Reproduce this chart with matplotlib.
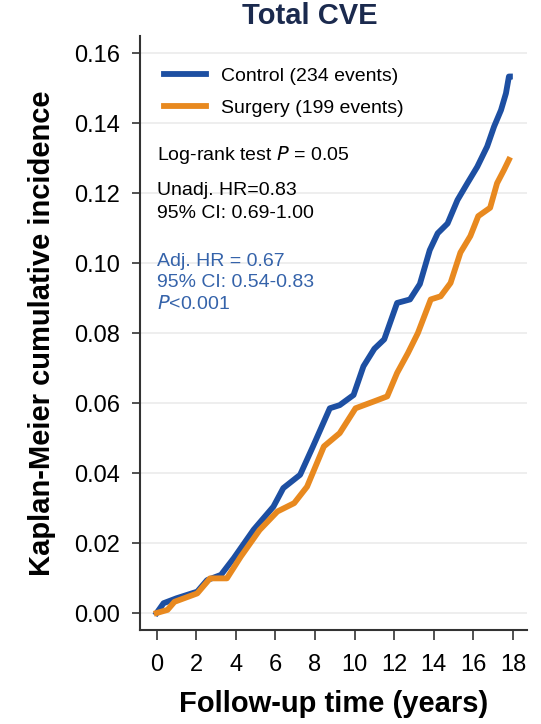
import numpy as np
import matplotlib
matplotlib.use("Agg")
import matplotlib.pyplot as plt

plt.rcParams["font.family"] = ["Liberation Sans", "DejaVu Sans"]

BLUE = "#1d4fa2"
ORANGE = "#e8891f"
TEXT_BLUE = "#3563aa"

# Kaplan-Meier curves
control_t = [0, 0.35, 1.0, 2.05, 2.55, 3.25, 3.9, 4.9, 5.9, 6.4, 7.25, 7.9, 8.75, 9.25,
             9.95, 10.45, 11.0, 11.5, 12.15, 12.8, 13.3, 13.8, 14.2, 14.7, 15.2, 15.7,
             16.2, 16.7, 17.05, 17.4, 17.65, 17.8, 17.85]
control_v = [0, 0.0028, 0.0042, 0.0061, 0.0094, 0.0109, 0.0157, 0.0238, 0.0304, 0.0357,
             0.0395, 0.0476, 0.0585, 0.0594, 0.0623, 0.0705, 0.0755, 0.0782, 0.0886,
             0.0896, 0.094, 0.1037, 0.1085, 0.1113, 0.118, 0.1228, 0.1275, 0.1333,
             0.139, 0.1437, 0.1485, 0.1533, 0.1533]

surgery_t = [0, 0.55, 0.9, 2.05, 2.7, 3.55, 4.25, 5.2, 6.1, 6.95, 7.6, 8.45, 9.25, 10.05,
             11.0, 11.65, 12.15, 12.7, 13.2, 13.85, 14.35, 14.85, 15.35, 15.85, 16.25,
             16.85, 17.2, 17.55, 17.8]
surgery_v = [0, 0.0009, 0.0032, 0.0056, 0.0099, 0.0099, 0.0161, 0.0237, 0.029, 0.0314,
             0.0361, 0.0476, 0.0514, 0.0585, 0.0605, 0.0619, 0.0686, 0.0743, 0.080,
             0.0896, 0.0905, 0.0943, 0.103, 0.1077, 0.1134, 0.1158, 0.1228, 0.1266, 0.1295]

labels = ["Control (234 events)", "Surgery (199 events)"]
x_ticks = list(range(0, 20, 2))
y_ticks = [0.00, 0.02, 0.04, 0.06, 0.08, 0.10, 0.12, 0.14, 0.16]

fig = plt.figure(figsize=(5.41, 7.24), dpi=100)
ax = fig.add_axes([0.2588, 0.1298, 0.7152, 0.8204])

for yt in y_ticks:
    ax.axhline(yt, color="#ebebeb", lw=1.2, zorder=0)

ax.plot(control_t, control_v, color=BLUE, lw=4.2, solid_joinstyle="round", label=labels[0], zorder=3)
ax.plot(surgery_t, surgery_v, color=ORANGE, lw=4.2, solid_joinstyle="round", label=labels[1], zorder=4)

ax.set_xlim(-0.84, 18.71)
ax.set_ylim(-0.00486, 0.16486)
ax.set_xticks(x_ticks)
ax.set_yticks(y_ticks)
ax.set_yticklabels(["%.2f" % v for v in y_ticks])
ax.tick_params(axis="y", labelsize=17, length=6, width=1.2, color="#333333", pad=8.5)
ax.tick_params(axis="x", labelsize=17, length=7.5, width=1.2, color="#333333", pad=10)

for s in ["top", "right"]:
    ax.spines[s].set_visible(False)
for s in ["left", "bottom"]:
    ax.spines[s].set_linewidth(1.5)
    ax.spines[s].set_color("#333333")

ax.set_xlabel("Follow-up time (years)", fontsize=21, fontweight="bold", labelpad=10)
ax.set_ylabel("Kaplan-Meier cumulative incidence", fontsize=21, fontweight="bold", labelpad=13)

leg = ax.legend(loc="upper left", bbox_to_anchor=(0.023, 0.973), frameon=False, fontsize=14,
                handlelength=2.15, handletextpad=0.75, labelspacing=0.72, borderaxespad=0.4)

ax.text(0.043, 0.799, "Log-rank test $\\it{P}$ = 0.05", transform=ax.transAxes, fontsize=14, va="center")
ax.text(0.043, 0.754, "Unadj. HR=0.83\n95% CI: 0.69-1.00", transform=ax.transAxes, fontsize=14,
        va="top", linespacing=1.44)
ax.text(0.043, 0.635, "Adj. HR = 0.67\n95% CI: 0.54-0.83\n$\\it{P}$<0.001", transform=ax.transAxes,
        fontsize=14, va="top", linespacing=1.3, color=TEXT_BLUE)

fig.text(0.573, 0.978, "Total CVE", fontsize=21, fontweight="bold", color="#1b2a4e",
         ha="center", va="center")

fig.savefig("out.png", dpi=100)
